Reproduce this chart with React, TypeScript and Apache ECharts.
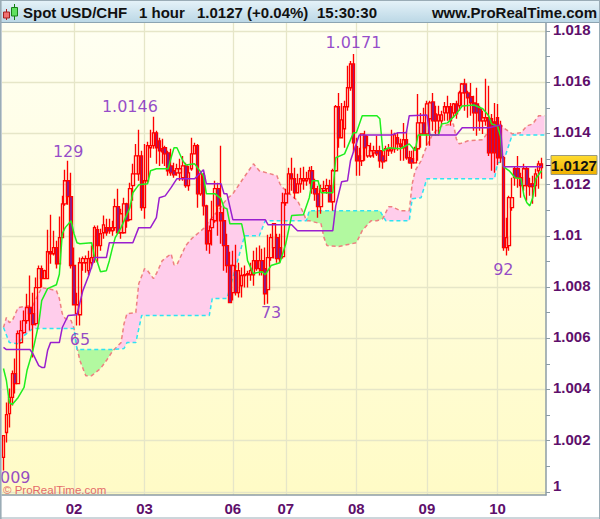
import React, { useEffect, useRef } from "react";
import * as echarts from "echarts";

const opens = [
1.00135,1.00232,1.00306,1.00369,1.00462,1.00423,1.00583,1.00622,1.00669,1.0072,
1.00696,1.00657,1.00798,1.00872,1.00833,1.00833,1.00938,1.0093,1.00954,1.00891,
1.00993,1.01125,1.01215,1.01153,1.00884,1.00696,1.00692,1.00895,1.00895,1.00864,
1.00895,1.00915,1.01024,1.00962,1.01012,1.01032,1.01032,1.0102,1.01032,1.01114,
1.01012,1.01012,1.01125,1.01063,1.01196,1.01242,1.01242,1.01312,1.0111,1.01215,
1.01344,1.01352,1.01402,1.01371,1.0134,1.01344,1.01324,1.01273,1.01254,1.01246,
1.01246,1.01227,1.01273,1.01196,1.01262,1.0132,1.01352,1.01164,1.01235,1.01117,
1.00969,1.01032,1.01059,1.01184,1.0109,1.01059,1.00962,1.00884,1.00778,1.00864,
1.00778,1.00805,1.00845,1.00848,1.00848,1.00848,1.00903,1.00872,1.00903,1.00872,
1.0079,1.00915,1.00954,1.00993,1.00954,1.00919,1.01129,1.01164,1.01242,1.01223,
1.01168,1.01203,1.01215,1.01215,1.01223,1.01254,1.01184,1.01164,1.01114,1.01176,
1.01184,1.01196,1.01133,1.01254,1.01504,1.01383,1.01418,1.01504,1.01578,1.01671,
1.01348,1.01312,1.01293,1.01391,1.01312,1.01312,1.01324,1.01332,1.01332,1.01312,
1.01293,1.01332,1.01332,1.0134,1.01383,1.01359,1.01344,1.01375,1.01305,1.01301,
1.01285,1.0134,1.01398,1.01441,1.01398,1.01457,1.01523,1.01476,1.01449,1.01449,
1.0148,1.0148,1.01504,1.0148,1.01515,1.01508,1.01558,1.01593,1.01558,1.01543,
1.01519,1.01515,1.01496,1.01449,1.01449,1.01461,1.01457,1.01445,1.01461,1.0143,
1.01305,1.00954,1.00962,1.0111,1.01262,1.01262,1.01227,1.01196,1.01262,1.01203,
1.01203,1.01196,1.01254,1.01281,
];
const closes = [
1.0022,1.00302,1.00369,1.00462,1.00423,1.00618,1.0063,1.00669,1.0072,1.00696,
1.00653,1.00798,1.00872,1.00833,1.00864,1.00938,1.0093,1.00954,1.00891,1.00993,
1.01125,1.01215,1.01153,1.00884,1.00731,1.00731,1.00895,1.00911,1.00911,1.00911,
1.00915,1.01032,1.00962,1.01008,1.01043,1.01012,1.0102,1.01032,1.01114,1.01012,
1.01086,1.01125,1.01059,1.01184,1.01242,1.01312,1.01312,1.0111,1.01215,1.01352,
1.01352,1.01402,1.01344,1.01332,1.01328,1.0132,1.01254,1.01246,1.01238,1.01262,
1.01262,1.01273,1.01196,1.01246,1.0132,1.01352,1.01164,1.01242,1.01117,1.00969,
1.0102,1.01063,1.01184,1.01117,1.01059,1.00962,1.00884,1.00739,1.00884,1.00778,
1.00864,1.00845,1.00848,1.00852,1.00864,1.00903,1.00872,1.00903,1.00864,1.00774,
1.00915,1.00993,1.01047,1.00911,1.00911,1.01129,1.01164,1.01242,1.01223,1.01168,
1.01203,1.01223,1.01223,1.01223,1.01254,1.01184,1.01164,1.01114,1.01184,1.01184,
1.01196,1.01133,1.01254,1.01504,1.01383,1.01453,1.01504,1.01578,1.01671,1.01363,
1.01293,1.01293,1.01398,1.01344,1.01352,1.01332,1.01332,1.0132,1.01293,1.01289,
1.0134,1.0134,1.0134,1.01394,1.01359,1.01348,1.01375,1.01305,1.01285,1.01285,
1.0134,1.01441,1.01441,1.01398,1.01515,1.01519,1.01449,1.01449,1.01472,1.01472,
1.01504,1.01504,1.01449,1.01515,1.01476,1.01558,1.01593,1.01558,1.01539,1.01519,
1.0148,1.0148,1.01449,1.01461,1.01461,1.01324,1.01324,1.01324,1.01305,1.01305,
1.00954,1.00993,1.01149,1.01149,1.01227,1.01227,1.01196,1.01262,1.01196,1.01192,
1.01192,1.01242,1.01281,1.01266,
];
const lows = [
1.00084,1.00193,1.00252,1.00337,1.00384,1.00423,1.00579,1.00618,1.00657,1.0063,
1.00525,1.0065,1.00798,1.00798,1.00833,1.00833,1.00891,1.00923,1.00872,1.00891,
1.00993,1.01117,1.01121,1.00872,1.00728,1.0065,1.0065,1.00864,1.00856,1.00845,
1.00872,1.00895,1.00895,1.00942,1.00989,1.01,1.01008,1.01,1.0102,1.01008,
1.00989,1.01008,1.01032,1.01059,1.01137,1.01242,1.01215,1.01098,1.01067,1.01207,
1.01305,1.0134,1.01281,1.01273,1.01281,1.01273,1.01235,1.01235,1.01227,1.01235,
1.01215,1.01215,1.01188,1.01176,1.01254,1.0132,1.0111,1.01156,1.01079,1.00942,
1.0093,1.00962,1.01051,1.01,1.00969,1.00864,1.00856,1.00739,1.00747,1.00767,
1.00759,1.00759,1.00798,1.00798,1.00825,1.00805,1.00864,1.00845,1.00845,1.00731,
1.00735,1.00903,1.00911,1.00895,1.00895,1.00911,1.01117,1.01164,1.01176,1.01145,
1.01168,1.01168,1.0118,1.01196,1.01203,1.01164,1.01137,1.01071,1.01086,1.01168,
1.01164,1.01133,1.01098,1.0125,1.01344,1.01383,1.01344,1.01488,1.01566,1.01324,
1.01235,1.01235,1.01273,1.01293,1.01305,1.01305,1.01305,1.01312,1.01266,1.01262,
1.01293,1.01312,1.0132,1.01324,1.01332,1.01293,1.01293,1.01297,1.01281,1.01262,
1.01285,1.01293,1.01344,1.01398,1.01352,1.01352,1.0141,1.01391,1.01391,1.0143,
1.01449,1.01449,1.0143,1.01461,1.01457,1.01488,1.01508,1.01488,1.01461,1.01469,
1.0141,1.01391,1.0141,1.01398,1.0143,1.01312,1.01254,1.01246,1.01277,1.01285,
1.00942,1.00923,1.00942,1.01098,1.01196,1.01188,1.01149,1.01176,1.01137,1.01156,
1.01125,1.01153,1.01184,1.01223,
];
const highs = [
1.0022,1.00349,1.00404,1.00474,1.00521,1.0063,1.00669,1.00708,1.00774,1.00845,
1.00778,1.00837,1.00884,1.00884,1.00868,1.01024,1.01082,1.0102,1.00981,1.01075,
1.01156,1.01258,1.01293,1.01246,1.00954,1.00778,1.00915,1.00919,1.00923,1.00942,
1.00962,1.0104,1.0104,1.01028,1.01079,1.01067,1.01067,1.01059,1.01145,1.01184,
1.01106,1.01149,1.01129,1.01207,1.01281,1.01359,1.01414,1.01332,1.01359,1.01367,
1.01414,1.01465,1.0141,1.01383,1.01379,1.01352,1.01332,1.0134,1.01285,1.01281,
1.01301,1.01312,1.01285,1.01273,1.01383,1.01363,1.01359,1.01254,1.01246,1.01121,
1.0104,1.01137,1.01215,1.01207,1.01352,1.01117,1.01008,1.00938,1.00942,1.00965,
1.00895,1.00876,1.00884,1.00864,1.00895,1.00942,1.00954,1.00962,1.0095,1.00954,
1.01004,1.01008,1.01047,1.01008,1.01008,1.01168,1.01184,1.01266,1.01305,1.01266,
1.01242,1.01266,1.0127,1.0125,1.0127,1.01273,1.01223,1.01196,1.01199,1.01215,
1.01223,1.01219,1.01262,1.01511,1.01558,1.01519,1.01527,1.01664,1.01683,1.0171,
1.01383,1.01344,1.01398,1.0141,1.01391,1.01363,1.01352,1.01391,1.01352,1.01332,
1.01352,1.01359,1.01414,1.01402,1.01402,1.01379,1.01441,1.0141,1.01332,1.01332,
1.01348,1.01554,1.0148,1.015,1.01527,1.01527,1.01558,1.01508,1.01508,1.01488,
1.01523,1.01547,1.01519,1.01519,1.01527,1.01566,1.01597,1.01613,1.01566,1.01597,
1.01547,1.01578,1.01508,1.01488,1.01613,1.01586,1.01476,1.01519,1.01515,1.01449,
1.01312,1.01071,1.01156,1.01227,1.01273,1.01312,1.01246,1.01281,1.01273,1.01227,
1.01235,1.01262,1.01293,1.01305,
];

// [bar index, price] vertices of the indicator lines
const tenkan: [number, number][] = [
[0,1.00482],[1,1.00435],[2,1.00349],[3,1.00341],[5,1.00369],[7,1.00408],[8,1.00474],[10,1.00552],[12,1.00657],[13,1.00747],
[15,1.00794],[18,1.00809],[19,1.0085],[20,1.01008],[21,1.01032],[23,1.01059],[24,1.01008],[25,1.00973],[26,1.00969],[30,1.00973],
[31,1.00915],[32,1.00895],[33,1.0086],[35,1.00864],[36,1.00903],[37,1.0095],[38,1.00993],[40,1.01032],[43,1.0111],[44,1.01168],
[46,1.01199],[49,1.01203],[50,1.01254],[52,1.01262],[56,1.01262],[57,1.01305],[58,1.01344],[59,1.01344],[61,1.01293],[62,1.01277],
[65,1.01281],[68,1.01235],[69,1.01164],[72,1.01164],[74,1.01145],[75,1.0111],[76,1.01106],[77,1.01047],[81,1.01047],[82,1.00993],
[83,1.00903],[85,1.00852],[86,1.00856],[88,1.0086],[89,1.00848],[91,1.00884],[94,1.00895],[96,1.00969],[98,1.01079],[102,1.01082],
[104,1.01149],[105,1.01215],[107,1.01215],[108,1.01168],[112,1.01168],[113,1.01305],[116,1.0132],[119,1.01402],[120,1.01402],[122,1.01469],
[127,1.01469],[128,1.01457],[129,1.01332],[131,1.01344],[135,1.0134],[138,1.01359],[140,1.01332],[141,1.01394],[148,1.01394],[149,1.01437],
[151,1.01441],[154,1.01476],[156,1.01507],[160,1.01511],[163,1.01496],[165,1.01469],[166,1.01437],[168,1.01429],[169,1.0139],[170,1.0127],
[172,1.01254],[174,1.01227],[176,1.01223],[177,1.01157],[178,1.01129],[179,1.01117],[180,1.01149],[181,1.01223],[183,1.01254],
];
const kijun: [number, number][] = [
[0,1.00564],[1,1.00556],[9,1.00556],[10,1.0054],[12,1.00493],[13,1.00486],[14,1.00486],[15,1.00552],[16,1.00583],[19,1.00583],
[20,1.00642],[22,1.00689],[25,1.00692],[27,1.00786],[29,1.00845],[31,1.00915],[35,1.00915],[36,1.00973],[44,1.00973],[46,1.01032],
[50,1.01032],[52,1.01071],[53,1.01149],[55,1.01156],[57,1.01188],[59,1.01223],[65,1.01223],[68,1.01258],[69,1.01203],[74,1.01203],
[75,1.01164],[76,1.01164],[78,1.01063],[89,1.01063],[90,1.01043],[98,1.01043],[100,1.0102],[112,1.0102],[113,1.01117],[115,1.01211],
[117,1.01215],[118,1.01293],[121,1.01394],[132,1.01394],[134,1.01402],[137,1.01402],[138,1.01469],[144,1.01472],[145,1.01394],[154,1.01394],
[156,1.01422],[165,1.01422],[169,1.01433],[170,1.0127],[183,1.0127],
];
const spanA: [number, number][] = [
[0,1.00642],[1,1.00681],[2,1.00661],[3,1.00669],[5,1.0072],[7,1.00724],[10,1.00728],[13,1.00798],[15,1.00794],[18,1.00786],
[19,1.00755],[20,1.00696],[21,1.00677],[23,1.00669],[24,1.00638],[25,1.00564],[26,1.00513],[28,1.00454],[30,1.00454],[33,1.00482],
[35,1.00513],[37,1.00548],[39,1.00572],[40,1.00583],[41,1.00657],[42,1.00696],[45,1.007],[46,1.00813],[48,1.00872],[49,1.00864],
[51,1.00833],[52,1.00852],[54,1.00903],[57,1.0093],[58,1.00887],[59,1.00887],[62,1.00962],[64,1.00989],[68,1.01028],[70,1.01059],
[73,1.01098],[76,1.01145],[78,1.01164],[81,1.01215],[85,1.01281],[87,1.01254],[93,1.01235],[94,1.01203],[95,1.01188],[100,1.01137],
[102,1.0109],[103,1.01059],[104,1.01059],[108,1.01047],[109,1.00993],[110,1.00962],[114,1.00958],[120,1.00973],[122,1.0102],[125,1.01059],
[127,1.01059],[129,1.01067],[131,1.01114],[132,1.01114],[135,1.01098],[138,1.01098],[139,1.01203],[140,1.01254],[142,1.01293],[144,1.01352],
[146,1.01398],[149,1.01429],[153,1.01437],[154,1.01379],[155,1.01359],[158,1.01371],[163,1.01375],[165,1.0141],[169,1.01437],[170,1.01422],
[173,1.01398],[176,1.01402],[178,1.01429],[180,1.01437],[182,1.01469],[184,1.01469],
];
const spanB: [number, number][] = [
[0,1.00642],[2,1.00583],[5,1.00579],[7,1.0061],[10,1.00638],[24,1.00638],[25,1.00556],[37,1.00556],[41,1.0056],[42,1.00583],
[45,1.00583],[47,1.00689],[70,1.00689],[71,1.00755],[76,1.00755],[82,1.01],[87,1.01],[89,1.01059],[103,1.01059],[104,1.01098],
[128,1.01098],[130,1.01059],[138,1.01059],[139,1.01145],[142,1.01149],[144,1.01223],[167,1.01223],[168,1.01285],[170,1.01289],[173,1.01394],
[184,1.01394],
];

const dayTicks: [number, string][] = [[24,"02"],[48,"03"],[78,"06"],[96,"07"],[120,"08"],[144,"09"],[168,"10"]];
const priceTicks = [1,1.002,1.004,1.006,1.008,1.01,1.012,1.014,1.016,1.018];
const minorTicks = [1,1.001,1.002,1.003,1.004,1.005,1.006,1.007,1.008,1.009,1.01,1.011,1.012,1.013,1.014,1.015,1.016,1.017,1.018];
const peakLabels: [number, number, string][] = [
[22,1.01328,"129"],[43,1.01504,"1.0146"],[26,1.00595,"65"],[91,1.007,"73"],[119,1.01753,"1.0171"],[170,1.0087,"92"],[4,1.00057,"009"],
];

const BAR_SLOTS = 185;
const categories = Array.from({ length: BAR_SLOTS }, (_, i) => String(i));
const dayOf = new Map(dayTicks);

const valueAt = (list: [number, number][], x: number) => {
  for (let k = 0; k < list.length - 1; k++) {
    const [x0, y0] = list[k];
    const [x1, y1] = list[k + 1];
    if (x >= x0 && x <= x1) return y0 + ((y1 - y0) * (x - x0)) / (x1 - x0);
  }
  return list[list.length - 1][1];
};

type Region = { pink: boolean; a: number[][]; b: number[][] };
const buildRegions = () => {
  const out: Region[] = [];
  let cur: Region | null = null;
  for (let i = 0; i < BAR_SLOTS; i++) {
    const a = valueAt(spanA, i);
    const b = valueAt(spanB, i);
    const pink = a >= b;
    if (!cur) cur = { pink, a: [], b: [] };
    else if (cur.pink !== pink) {
      const pa = valueAt(spanA, i - 1);
      const pb = valueAt(spanB, i - 1);
      const t = (pa - pb) / (pa - pb - (a - b));
      const y = pa + (a - pa) * t;
      const x = i - 1 + t;
      cur.a.push([x, y]);
      cur.b.push([x, y]);
      out.push(cur);
      cur = { pink, a: [[x, y]], b: [[x, y]] };
    }
    cur.a.push([i, a]);
    cur.b.push([i, b]);
  }
  if (cur) out.push(cur);
  return out;
};
const regions = buildRegions();

const AXIS = "#8c9ca6";
const LABEL = "#5e0f6b";
const FONT = "Liberation Sans";
const headerText = (x: number, text: string, align = "left") => ({
  type: "text", x, y: 12, z: 20,
  style: { text, fill: "#111", font: `bold 15px "${FONT}"`, textAlign: align, textVerticalAlign: "middle" },
});

export default function App() {
  const ref = useRef<HTMLDivElement>(null);
  useEffect(() => {
    document.body.style.margin = "0";
    const chart = echarts.init(ref.current!, undefined, { renderer: "svg" });
    const showDay = (i: number) => dayOf.has(i);
    chart.setOption({
      animation: false,
      backgroundColor: "#ffffff",
      grid: {
        left: 2, right: 54, top: 23, bottom: 24, show: true, borderWidth: 0,
        backgroundColor: new echarts.graphic.LinearGradient(0, 0, 0, 1, [
          { offset: 0, color: "#fffff2" },
          { offset: 1, color: "#fffbc6" },
        ]),
      },
      xAxis: {
        type: "category",
        data: categories,
        axisLine: { lineStyle: { color: AXIS, width: 1.5 }, onZero: false },
        axisTick: { interval: showDay, alignWithLabel: true, length: 5, lineStyle: { color: AXIS, width: 1 } },
        splitLine: { show: true, interval: showDay, alignWithLabel: true, lineStyle: { color: "#e6e6c8", width: 1.3 } },
        axisLabel: {
          interval: showDay, margin: 6, color: LABEL, fontWeight: "bold", fontSize: 15, fontFamily: FONT,
          formatter: (_: string, i: number) => dayOf.get(i) ?? "",
        },
      },
      yAxis: [
        {
          type: "value", position: "right", min: 0.99988, max: 1.01831, scale: true,
          axisLine: { show: true, lineStyle: { color: AXIS, width: 1.5 } },
          axisTick: { show: true, customValues: minorTicks, length: 4, lineStyle: { color: AXIS, width: 1 } },
          splitLine: { show: false },
          axisLabel: {
            customValues: priceTicks, margin: 7, color: LABEL, fontWeight: "bold", fontSize: 15, fontFamily: FONT,
            padding: [0, 0, 3, 0],
            formatter: (v: number) => (v === 1 ? "{low|1}" : String(v)),
            rich: { low: { color: LABEL, fontWeight: "bold", fontSize: 15, fontFamily: FONT, padding: [0, 0, 9, 0] } },
          },
        },
        {
          type: "value", position: "left", min: 0.99988, max: 1.01831, scale: true,
          axisLine: { show: false },
          axisTick: { show: false, customValues: priceTicks },
          axisLabel: { show: false },
          splitLine: { show: true, lineStyle: { color: "#e6e6c8", width: 1.3 } },
        },
      ],
      series: [
        {
          type: "custom", z: 1, silent: true,
          data: regions.map((_, i) => [i, 1.01]),
          encode: { x: 0, y: 1 },
          renderItem: (params: any, api: any) => {
            const r = regions[params.dataIndex];
            const w = api.size([1, 0])[0];
            const points = r.a.concat([...r.b].reverse()).map(([x, y]) => {
              const f = Math.floor(x);
              const p = api.coord([f, y]);
              return [p[0] + (x - f) * w, p[1]];
            });
            return { type: "polygon", shape: { points }, style: { fill: r.pink ? "#ffcdeb" : "#b2f9a0", stroke: "none" } };
          },
        },
        {
          type: "line", z: 2, data: spanA, showSymbol: false, silent: true,
          lineStyle: { color: "#ee8080", width: 1.5, type: [4, 3] },
        },
        {
          type: "line", z: 2, data: spanB, showSymbol: false, silent: true,
          lineStyle: { color: "#2fe3f2", width: 1.5, type: [4, 3] },
        },
        {
          type: "candlestick", z: 3, barWidth: 3, silent: true,
          data: opens.map((o, i) => [o, closes[i], lows[i], highs[i]]),
          itemStyle: { color: "rgba(0,0,0,0)", color0: "#7a1fa0", borderColor: "#ff0000", borderColor0: "#ff0000", borderWidth: 1.35 },
        },
        {
          type: "line", z: 4, data: tenkan, showSymbol: false, silent: true,
          lineStyle: { color: "#1fee1f", width: 1.5 },
        },
        {
          type: "line", z: 4, data: kijun, showSymbol: false, silent: true,
          lineStyle: { color: "#9a1fcf", width: 1.5 },
        },
        {
          type: "scatter", z: 5, symbolSize: 0, silent: true, clip: false,
          data: peakLabels.map(([i, p, t]) => ({ value: [i, p], text: t })),
          label: {
            show: true, position: "inside", color: "#7a1bc0", fontSize: 16, fontFamily: "DejaVu Sans",
            formatter: (p: any) => p.data.text,
          },
        },
      ],
      graphic: [
        {
          type: "rect", z: 10, shape: { x: 0, y: 0, width: 600, height: 22 },
          style: {
            fill: new echarts.graphic.LinearGradient(0, 0, 0, 1, [
              { offset: 0, color: "#e6f3f9" },
              { offset: 1, color: "#bcd8e6" },
            ]),
          },
        },
        { type: "line", z: 11, shape: { x1: 0, y1: 22.5, x2: 600, y2: 22.5 }, style: { stroke: "#8ca4b2", lineWidth: 1 } },
        { type: "line", z: 11, shape: { x1: 0, y1: 0.5, x2: 600, y2: 0.5 }, style: { stroke: "#9aacb6", lineWidth: 1 } },
        { type: "line", z: 11, shape: { x1: 0.8, y1: 0, x2: 0.8, y2: 519 }, style: { stroke: "#9aacb6", lineWidth: 1.6 } },
        { type: "line", z: 11, shape: { x1: 599.5, y1: 0, x2: 599.5, y2: 519 }, style: { stroke: "#9aacb6", lineWidth: 1 } },
        { type: "line", z: 11, shape: { x1: 0, y1: 518, x2: 600, y2: 518 }, style: { stroke: "#9aacb6", lineWidth: 1 } },
        { type: "line", z: 12, shape: { x1: 6.5, y1: 9, x2: 6.5, y2: 20 }, style: { stroke: "#b01818", lineWidth: 1 } },
        { type: "rect", z: 12, shape: { x: 3.5, y: 12, width: 6, height: 6 }, style: { fill: "#f07070", stroke: "#a02020", lineWidth: 1 } },
        { type: "line", z: 12, shape: { x1: 14.5, y1: 4, x2: 14.5, y2: 20 }, style: { stroke: "#108010", lineWidth: 1 } },
        { type: "rect", z: 12, shape: { x: 11.5, y: 7.5, width: 6, height: 8.5 }, style: { fill: "#60e060", stroke: "#188018", lineWidth: 1 } },
        headerText(23, "Spot USD/CHF"),
        headerText(139, "1 hour"),
        headerText(197, "1.0127 (+0.04%)"),
        headerText(317, "15:30:30"),
        headerText(597, "www.ProRealTime.com", "right"),
        {
          type: "text", x: 3, y: 490, z: 12,
          style: { text: "© ProRealTime.com", fill: "#e46a6a", font: `11.5px "${FONT}"`, textVerticalAlign: "middle" },
        },
        { type: "line", z: 12, shape: { x1: 546, y1: 165.5, x2: 551, y2: 165.5 }, style: { stroke: "#4a1050", lineWidth: 1 } },
        {
          type: "rect", z: 12, shape: { x: 551, y: 155.5, width: 46, height: 19 },
          style: {
            fill: new echarts.graphic.LinearGradient(0, 0, 0, 1, [
              { offset: 0, color: "#ffdc30" },
              { offset: 1, color: "#f0b000" },
            ]),
            stroke: "#9a9a80", lineWidth: 1,
          },
        },
        {
          type: "text", x: 574, y: 165, z: 13,
          style: { text: "1.0127", fill: "#111", font: `bold 15px "${FONT}"`, textAlign: "center", textVerticalAlign: "middle" },
        },
      ],
    });
    return () => chart.dispose();
  }, []);
  return <div ref={ref} style={{ width: 600, height: 519 }} />;
}
